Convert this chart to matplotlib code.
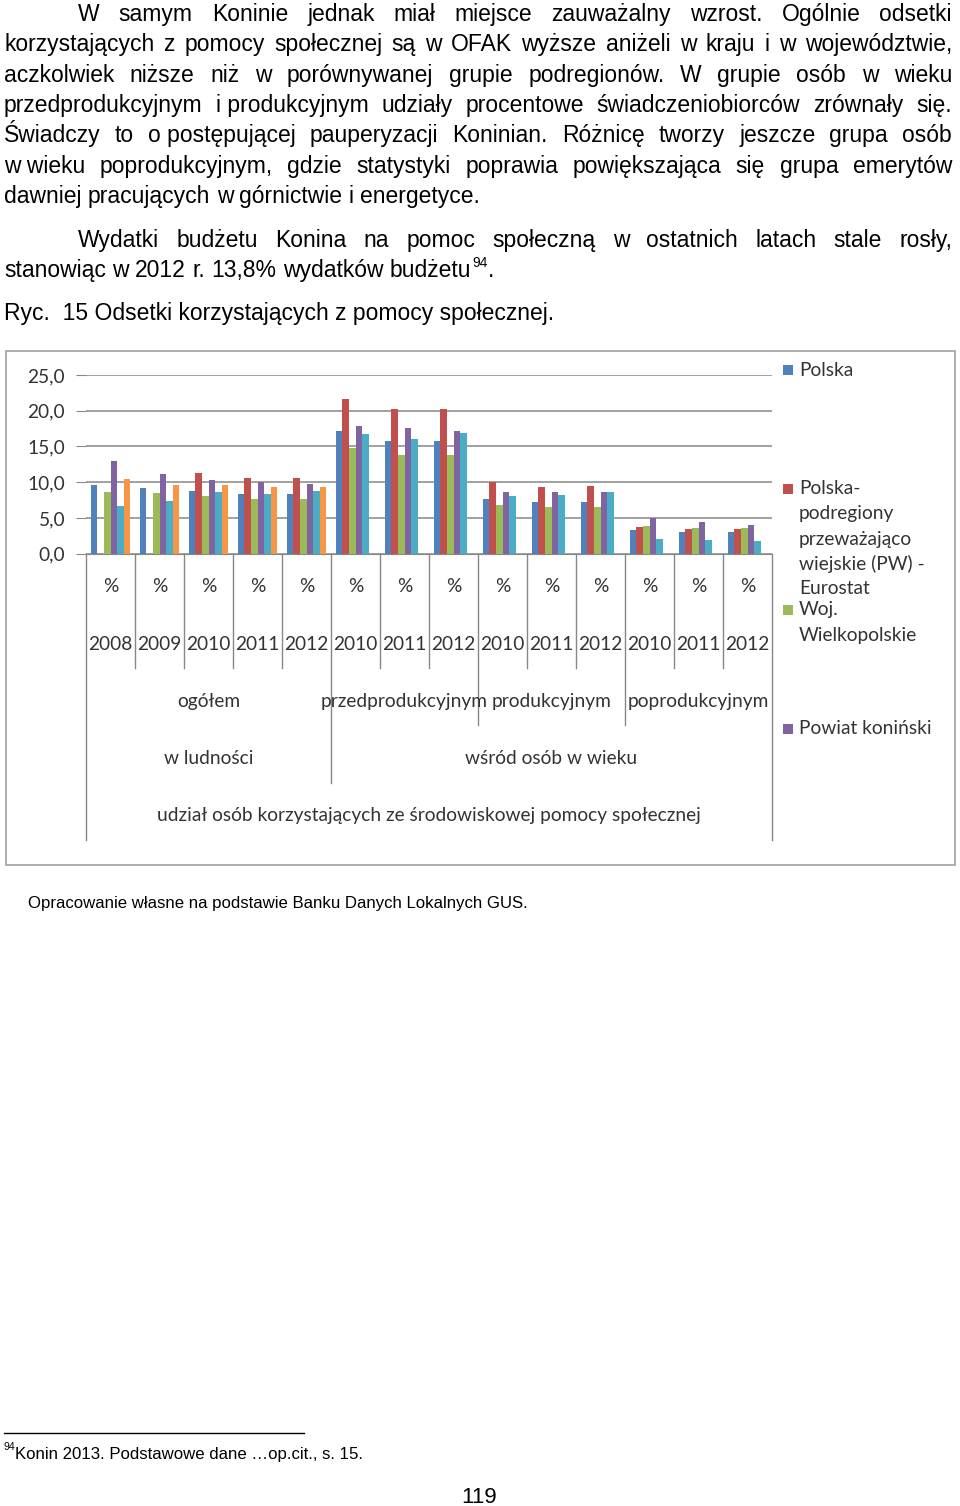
import numpy as np
import matplotlib
matplotlib.use("Agg")
from matplotlib import pyplot
from matplotlib import transforms
from matplotlib.patches import Rectangle

# ---- data (percent of population using social assistance) ----
years = ["2008", "2009", "2010", "2011", "2012",
         "2010", "2011", "2012",
         "2010", "2011", "2012",
         "2010", "2011", "2012"]
groups = ["ogółem", "przedprodukcyjnym", "produkcyjnym", "poprodukcyjnym"]
group_sizes = [5, 3, 3, 3]
supergroups = ["w ludności", "wśród osób w wieku"]
supergroup_sizes = [5, 9]
axis_title = "udział osób korzystających ze środowiskowej pomocy społecznej"

nan = np.nan
polska = [9.6, 9.2, 8.8, 8.3, 8.3, 17.1, 15.8, 15.8, 7.6, 7.2, 7.2, 3.3, 3.0, 3.0]
podregiony = [nan, nan, 11.3, 10.6, 10.6, 21.7, 20.2, 20.3, 10.0, 9.3, 9.5, 3.7, 3.5, 3.5]
wielkopolskie = [8.7, 8.5, 8.1, 7.6, 7.6, 14.8, 13.8, 13.8, 6.8, 6.5, 6.5, 3.9, 3.6, 3.6]
powiat = [12.9, 11.2, 10.3, 10.0, 9.8, 17.9, 17.6, 17.2, 8.6, 8.6, 8.6, 5.0, 4.4, 4.0]
seria5 = [6.7, 7.4, 8.7, 8.4, 8.8, 16.8, 16.0, 16.9, 8.1, 8.2, 8.6, 2.1, 1.9, 1.8]
seria6 = [10.4, 9.6, 9.6, 9.3, 9.3, nan, nan, nan, nan, nan, nan, nan, nan, nan]

series = [polska, podregiony, wielkopolskie, powiat, seria5, seria6]
colors = ["#4F81BD", "#C0504D", "#9BBB59", "#8064A2", "#4BACC6", "#F79646"]
legend_labels = ["Polska",
                 "Polska-\npodregiony\nprzeważająco\nwiejskie (PW) -\nEurostat",
                 "Woj.\nWielkopolskie",
                 "Powiat koniński"]

W, H = 960, 1506
fig = pyplot.figure(figsize=(W / 100, H / 100), dpi=100)
fig.patch.set_facecolor("white")
renderer = fig.canvas.get_renderer()

def fx(x):
    return x / W

def fy(y):
    return 1 - y / H

TXT = "Liberation Sans"
CH = "Lato"
GRAY = "#878787"
PS = 16.5   # page text size
CS = 13.8   # chart text size

# ---- page text ----
def put_line(line, x0, y, size, x1=None):
    words = [w.replace("~", " ") for w in line.split(" ")]
    items = [fig.text(0, fy(y), w, fontsize=size, family=TXT, va="baseline") for w in words]
    widths = [t.get_window_extent(renderer).width for t in items]
    a = fig.text(0, 0, "a b", fontsize=size, family=TXT)
    b = fig.text(0, 0, "ab", fontsize=size, family=TXT)
    sp = a.get_window_extent(renderer).width - b.get_window_extent(renderer).width
    a.remove()
    b.remove()
    if x1 is not None and len(words) > 1:
        gap = (x1 - x0 - sum(widths)) / (len(words) - 1)
    else:
        gap = sp
    x = x0
    for t, w in zip(items, widths):
        t.set_x(fx(x))
        x += w + gap
    return x - gap

para = [
    ("W samym Koninie jednak miał miejsce zauważalny wzrost. Ogólnie odsetki", 78, 21, True),
    ("korzystających z pomocy społecznej są w OFAK wyższe aniżeli w kraju i w województwie,", 4, 51, True),
    ("aczkolwiek niższe niż w porównywanej grupie podregionów. W grupie osób w wieku", 4, 82, True),
    ("przedprodukcyjnym i~produkcyjnym udziały procentowe świadczeniobiorców zrównały się.", 4, 112, True),
    ("Świadczy to o~postępującej pauperyzacji Koninian. Różnicę tworzy jeszcze grupa osób", 4, 142, True),
    ("w~wieku poprodukcyjnym, gdzie statystyki poprawia powiększająca się grupa emerytów", 4, 173, True),
    ("dawniej pracujących w górnictwie i energetyce.", 4, 203, False),
    ("Wydatki budżetu Konina na pomoc społeczną w ostatnich latach stale rosły,", 78, 247, True),
]
for line, x0, y, just in para:
    put_line(line, x0, y, PS, 952 if just else None)

xe = put_line("stanowiąc w 2012 r. 13,8% wydatków budżetu", 4, 277, PS)
fig.text(fx(xe + 1), fy(267), "94", fontsize=10, family=TXT, va="baseline")
fig.text(fx(xe + 17), fy(277), ".", fontsize=PS, family=TXT, va="baseline")
fig.text(fx(4), fy(320), "Ryc.  15 Odsetki korzystających z pomocy społecznej.",
         fontsize=PS, family=TXT, va="baseline")

fig.text(fx(28), fy(908), "Opracowanie własne na podstawie Banku Danych Lokalnych GUS.",
         fontsize=12.05, family=TXT, va="baseline")

fig.add_artist(pyplot.Line2D([fx(4), fx(304)], [fy(1433), fy(1433)], color="black", lw=1))
fig.text(fx(3), fy(1450), "94", fontsize=7.5, family=TXT, va="baseline")
fig.text(fx(15), fy(1459), "Konin 2013. Podstawowe dane …op.cit., s. 15.",
         fontsize=12.1, family=TXT, va="baseline")
fig.text(fx(479), fy(1503), "119", fontsize=16, family=TXT, va="baseline", ha="center")

# ---- chart frame ----
fig.add_artist(Rectangle((fx(6), fy(865)), fx(955 - 6), (865 - 351) / H,
                         transform=fig.transFigure, fill=False, ec="#a0a0a0", lw=1.2))

ax = fig.add_axes([fx(86), fy(553.7), (772 - 86) / W, (553.7 - 375) / H])
x = np.arange(len(years))
nser = len(series)
bw = 0.8 / nser
for k, (vals, col) in enumerate(zip(series, colors)):
    ax.bar(x + (k - (nser - 1) / 2) * bw, vals, bw, color=col, linewidth=0)

ax.set_xlim(-0.5, len(years) - 0.5)
ax.set_ylim(0, 25)
ax.set_yticks(np.arange(0, 26, 5))
ax.set_yticklabels([("%.1f" % v).replace(".", ",") for v in np.arange(0, 26, 5)],
                   fontfamily=CH, fontsize=CS)
ax.tick_params(axis="y", length=7, color=GRAY, pad=8, labelcolor="#333333")
ax.set_xticks([])
ax.yaxis.grid(True, color=GRAY, lw=1.1)
ax.set_axisbelow(True)
for s in ["top", "right", "left"]:
    ax.spines[s].set_visible(False)
ax.spines["bottom"].set_color(GRAY)

# ---- multi-level category axis ----
bt = transforms.blended_transform_factory(ax.transData, fig.transFigure)

def sep(b, ybot):
    ax.plot([b, b], [fy(553.7), fy(ybot)], transform=bt, clip_on=False, color=GRAY, lw=1)

for i, yr in enumerate(years):
    ax.text(i, fy(587), "%", transform=bt, ha="center", va="center", fontfamily=CH,
            fontsize=CS, color="#333333")
    ax.text(i, fy(644), yr, transform=bt, ha="center", va="center", fontfamily=CH,
            fontsize=CS, color="#333333")

group_edges = np.cumsum([0] + group_sizes) - 0.5
super_edges = np.cumsum([0] + supergroup_sizes) - 0.5
for b in np.arange(len(years) + 1) - 0.5:
    if b in super_edges:
        continue
    sep(b, 725 if b in group_edges else 668)
for b in super_edges:
    if b in (super_edges[0], super_edges[-1]):
        sep(b, 840)
    else:
        sep(b, 783)

for g, a, c in zip(groups, group_edges[:-1], group_edges[1:]):
    ax.text((a + c) / 2, fy(701), g, transform=bt, ha="center", va="center",
            fontfamily=CH, fontsize=CS, color="#333333")
for g, a, c in zip(supergroups, super_edges[:-1], super_edges[1:]):
    ax.text((a + c) / 2, fy(758), g, transform=bt, ha="center", va="center",
            fontfamily=CH, fontsize=CS, color="#333333")
ax.text((len(years) - 1) / 2, fy(816), axis_title, transform=bt, ha="center", va="center",
        fontfamily=CH, fontsize=CS, color="#333333")

# ---- legend (Excel-style, entries spread out) ----
leg_y = [370, 489, 610, 729]
for lab, col, y0 in zip(legend_labels, colors, leg_y):
    fig.add_artist(Rectangle((fx(783), fy(y0 + 5)), fx(10), 10 / H,
                             transform=fig.transFigure, color=col, lw=0))
    for j, ln in enumerate(lab.split("\n")):
        fig.text(fx(799), fy(y0 + j * 25), ln, fontfamily=CH, fontsize=CS,
                 va="center", ha="left", color="#333333")

pyplot.savefig("out.png", dpi=100)
